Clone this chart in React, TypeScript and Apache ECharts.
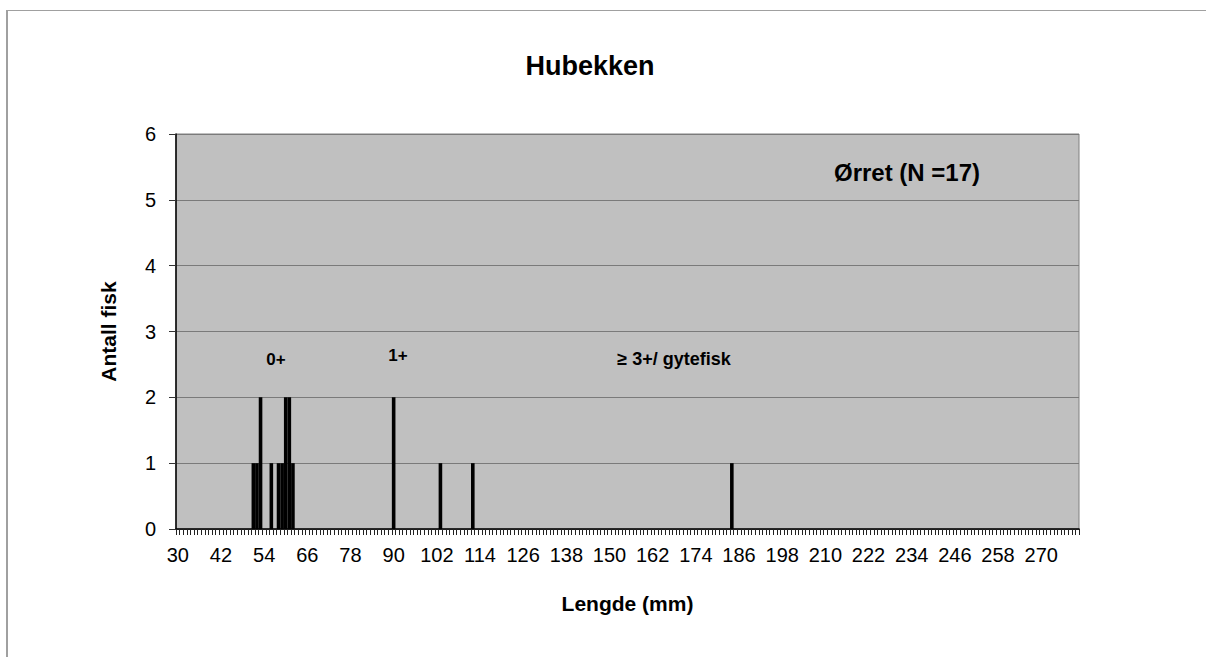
import React, { useEffect, useRef } from "react";
import * as echarts from "echarts";

const title = "Hubekken";
const xName = "Lengde (mm)";
const yName = "Antall fisk";
const firstLength = 30;
const lastLength = 280;
const lengths = [51, 52, 53, 56, 58, 59, 60, 61, 62, 90, 103, 112, 184];
const counts = [1, 1, 2, 1, 1, 1, 2, 2, 1, 2, 1, 1, 1];
const yTicks = [0, 1, 2, 3, 4, 5, 6];
const annotations = [
  { text: "Ørret (N =17)", x: 907, y: 172, size: 24 },
  { text: "0+", x: 276, y: 359, size: 17 },
  { text: "1+", x: 398, y: 355, size: 17 },
  { text: "≥ 3+/ gytefisk", x: 674, y: 359, size: 18 },
];

const categories: string[] = [];
for (let v = firstLength; v <= lastLength; v++) categories.push(String(v));

const FONT = "'Liberation Sans', Arial, sans-serif";

export default function App() {
  const ref = useRef<HTMLDivElement>(null);
  useEffect(() => {
    if (!ref.current) return;
    const chart = echarts.init(ref.current, null, { renderer: "svg" });
    const data = lengths.map((l, i) => [String(l), counts[i]]);
    chart.setOption({
      animation: false,
      backgroundColor: "#ffffff",
      textStyle: { fontFamily: FONT },
      title: {
        text: title,
        left: 590,
        top: 51,
        textAlign: "center",
        padding: 0,
        textStyle: { fontSize: 27, fontWeight: "bold", color: "#000", fontFamily: FONT, lineHeight: 30 },
      },
      grid: {
        left: 176,
        top: 134,
        right: 127,
        bottom: 128,
        show: true,
        backgroundColor: "#c0c0c0",
        borderColor: "#808080",
        borderWidth: 1,
      },
      xAxis: {
        type: "category",
        data: categories,
        boundaryGap: true,
        name: xName,
        nameLocation: "middle",
        nameGap: 64,
        nameTextStyle: { fontSize: 21, fontWeight: "bold", color: "#000", fontFamily: FONT },
        axisLine: { show: true, lineStyle: { color: "#000", width: 1.5 } },
        axisTick: { show: true, interval: 0, length: 6, alignWithLabel: false, lineStyle: { color: "#222", width: 1 } },
        axisLabel: { interval: 11, margin: 16, fontSize: 20, color: "#000", fontFamily: FONT },
        splitLine: { show: false },
      },
      yAxis: {
        type: "value",
        min: yTicks[0],
        max: yTicks[yTicks.length - 1],
        interval: 1,
        name: yName,
        nameLocation: "middle",
        nameRotate: 90,
        nameGap: 57,
        nameTextStyle: { fontSize: 21, fontWeight: "bold", color: "#000", fontFamily: FONT },
        axisLine: { show: true, lineStyle: { color: "#000", width: 1.5 } },
        axisTick: { show: true, length: 7, lineStyle: { color: "#333" } },
        axisLabel: { margin: 20, fontSize: 20, color: "#000", fontFamily: FONT },
        splitLine: { show: true, lineStyle: { color: "#7a7a7a", width: 1 } },
      },
      series: [
        {
          type: "bar",
          data,
          barWidth: "100%",
          itemStyle: { color: "#000" },
        },
      ],
      graphic: [
        {
          type: "line",
          shape: { x1: 7, y1: 10.5, x2: 1206, y2: 10.5 },
          style: { stroke: "#a0a0a0", lineWidth: 1 },
          silent: true,
        },
        {
          type: "line",
          shape: { x1: 7, y1: 10, x2: 7, y2: 657 },
          style: { stroke: "#a0a0a0", lineWidth: 2 },
          silent: true,
        },
        ...annotations.map((a) => ({
          type: "text",
          x: a.x,
          y: a.y,
          z: 10,
          style: {
            text: a.text,
            fill: "#000",
            font: `bold ${a.size}px ${FONT}`,
            textAlign: "center",
            textVerticalAlign: "middle",
          },
        })),
      ],
    });
    return () => chart.dispose();
  }, []);
  return (
    <div
      ref={ref}
      style={{ position: "absolute", left: 0, top: 0, width: 1206, height: 657 }}
    />
  );
}
